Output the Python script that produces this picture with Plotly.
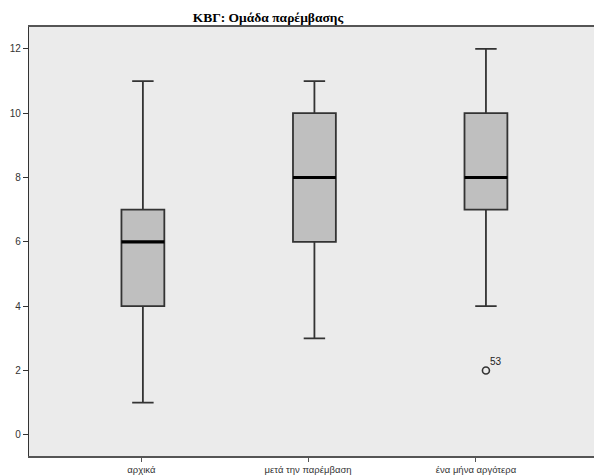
import plotly.graph_objects as go

categories = ["αρχικά", "μετά την παρέμβαση", "ένα μήνα αργότερα"]
lower = [1, 3, 4]
q1 = [4, 6, 7]
median = [6, 8, 8]
q3 = [7, 10, 10]
upper = [11, 11, 12]
outlier_group = [2]
outlier_value = [2]
outlier_label = ["53"]
title_text = "<b>ΚΒΓ: Ομάδα παρέμβασης</b>"

positions = list(range(len(categories)))
box_w = 0.25

fig = go.Figure()
fig.add_trace(go.Box(
    x=positions, q1=q1, median=median, q3=q3,
    lowerfence=lower, upperfence=upper,
    width=box_w, whiskerwidth=0.5,
    fillcolor="#bfbfbf", line=dict(color="#333333", width=1.8),
    boxpoints=False, showlegend=False, hoverinfo="skip",
))
# thick median lines
for p, m in zip(positions, median):
    fig.add_trace(go.Scatter(
        x=[p - box_w / 2, p + box_w / 2], y=[m, m], mode="lines",
        line=dict(color="#000000", width=3.2), showlegend=False, hoverinfo="skip",
    ))
fig.add_trace(go.Scatter(
    x=outlier_group, y=outlier_value, mode="markers",
    marker=dict(symbol="circle-open", size=7, color="#333333", line=dict(width=1.6)),
    showlegend=False, hoverinfo="skip",
))
for g, v, t in zip(outlier_group, outlier_value, outlier_label):
    fig.add_annotation(x=g, y=v, text=t, showarrow=False, xshift=10, yshift=9,
                       font=dict(family="Liberation Sans, Arial", size=10, color="#222"))

fig.update_layout(
    width=594, height=476,
    margin=dict(l=29, r=0, t=27, b=20),
    paper_bgcolor="white", plot_bgcolor="#ebebeb",
    title=dict(text=title_text, x=0.451, xanchor="center", y=0.963, yanchor="middle",
               font=dict(family="Liberation Serif, Times New Roman", size=13.5, color="#000")),
    xaxis=dict(range=[-0.664, 2.63], tickmode="array",
               tickvals=[-0.009, 0.963, 1.942], ticktext=categories,
               showgrid=False, zeroline=False, showline=True, mirror=True,
               linecolor="#555555", linewidth=1.5, ticks="outside", ticklen=4,
               tickcolor="#555555", tickfont=dict(family="Liberation Sans, Arial", size=9.5, color="#333")),
    yaxis=dict(range=[-0.66, 12.68], tickvals=[0, 2, 4, 6, 8, 10, 12],
               showgrid=False, zeroline=False, showline=True,
               linecolor="#333333", linewidth=1.2, ticks="outside", ticklen=5,
               tickcolor="#333333", tickfont=dict(family="Liberation Sans, Arial", size=10, color="#333")),
)

fig.write_html("out.html")
